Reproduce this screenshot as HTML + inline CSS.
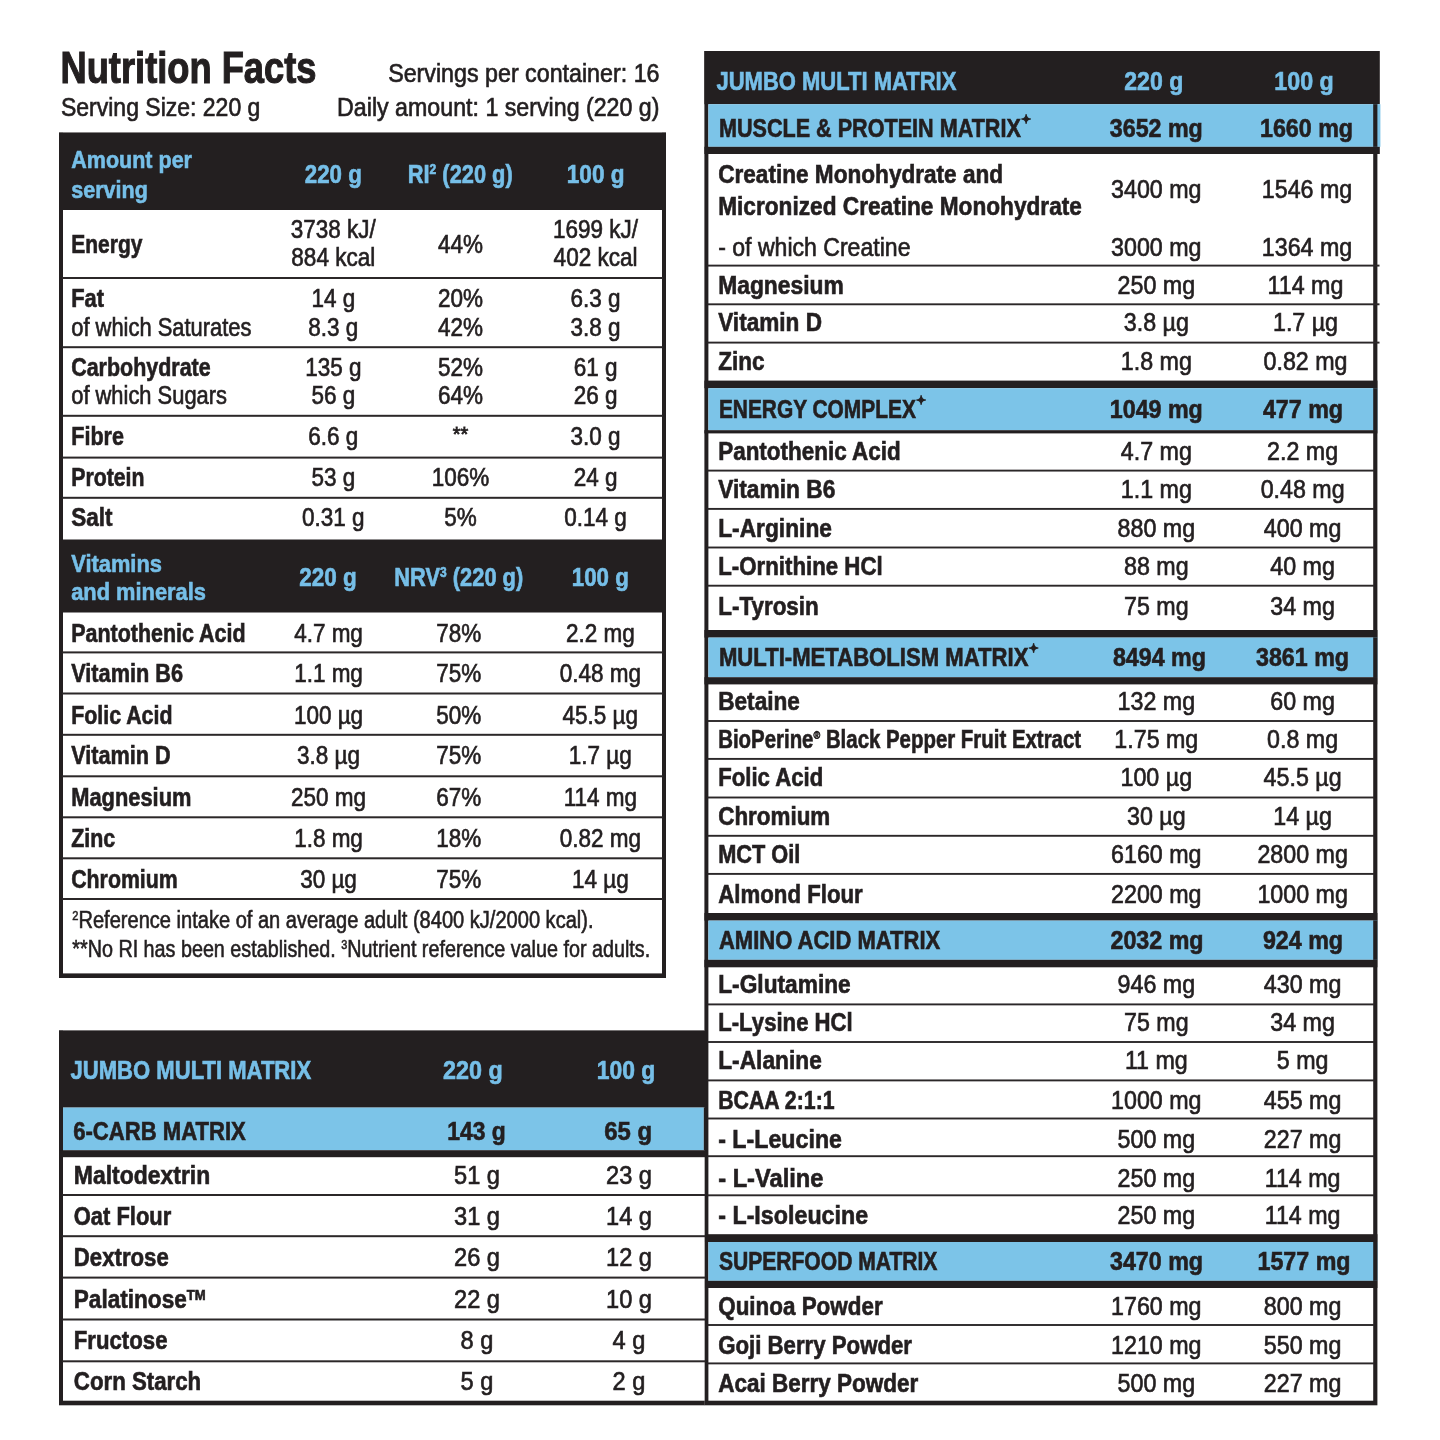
<!DOCTYPE html>
<html lang="en">
<head>
<meta charset="utf-8">
<title>Nutrition Facts</title>
<style>
html,body{margin:0;padding:0;background:#fff;}
body{width:1440px;height:1440px;overflow:hidden;}
svg{display:block;font-family:"Liberation Sans",sans-serif;filter:blur(0.55px);}
text{white-space:pre;}
</style>
</head>
<body>
<svg width="1440" height="1440" viewBox="0 0 1440 1440">
<rect width="1440" height="1440" fill="#ffffff"/>
<text transform="translate(60.50,83.30) scale(0.8341,1)" text-anchor="start" font-size="43.5" font-weight="bold" fill="#231f20" stroke="#231f20" stroke-width="1.09">Nutrition Facts</text>
<text transform="translate(61.00,116.00) scale(0.9021,1)" text-anchor="start" font-size="25.5" fill="#231f20" stroke="#231f20" stroke-width="0.66">Serving Size: 220 g</text>
<text transform="translate(659.50,82.00) scale(0.9121,1)" text-anchor="end" font-size="25.5" fill="#231f20" stroke="#231f20" stroke-width="0.66">Servings per container: 16</text>
<text transform="translate(659.50,116.00) scale(0.9101,1)" text-anchor="end" font-size="25.5" fill="#231f20" stroke="#231f20" stroke-width="0.66">Daily amount: 1 serving (220 g)</text>
<rect x="59.00" y="132.60" width="607.00" height="845.40" fill="#231f20"/>
<rect x="63.00" y="132.60" width="599.00" height="840.80" fill="#ffffff"/>
<rect x="59.00" y="132.60" width="607.00" height="77.40" fill="#231f20"/>
<rect x="59.00" y="539.50" width="607.00" height="73.00" fill="#231f20"/>
<rect x="62.00" y="277.00" width="601.00" height="2.00" fill="#2b2728"/>
<rect x="62.00" y="346.20" width="601.00" height="2.00" fill="#2b2728"/>
<rect x="62.00" y="414.80" width="601.00" height="2.00" fill="#2b2728"/>
<rect x="62.00" y="456.60" width="601.00" height="2.00" fill="#2b2728"/>
<rect x="62.00" y="496.80" width="601.00" height="2.00" fill="#2b2728"/>
<rect x="62.00" y="651.40" width="601.00" height="2.00" fill="#2b2728"/>
<rect x="62.00" y="692.50" width="601.00" height="2.00" fill="#2b2728"/>
<rect x="62.00" y="733.80" width="601.00" height="2.00" fill="#2b2728"/>
<rect x="62.00" y="775.30" width="601.00" height="2.00" fill="#2b2728"/>
<rect x="62.00" y="816.30" width="601.00" height="2.00" fill="#2b2728"/>
<rect x="62.00" y="857.30" width="601.00" height="2.00" fill="#2b2728"/>
<rect x="62.00" y="898.00" width="601.00" height="2.00" fill="#2b2728"/>
<text transform="translate(71.20,167.50) scale(0.8681,1)" text-anchor="start" font-size="24.8" font-weight="bold" fill="#76bfe8" stroke="#76bfe8" stroke-width="0.62">Amount per</text>
<text transform="translate(71.20,198.00) scale(0.8683,1)" text-anchor="start" font-size="24.8" font-weight="bold" fill="#76bfe8" stroke="#76bfe8" stroke-width="0.62">serving</text>
<text transform="translate(333.25,182.50) scale(0.8707,1)" text-anchor="middle" font-size="25.6" font-weight="bold" fill="#76bfe8" stroke="#76bfe8" stroke-width="0.64">220 g</text>
<text transform="translate(460.25,182.50) scale(0.8532,1)" text-anchor="middle" font-size="25.6" font-weight="bold" fill="#76bfe8" stroke="#76bfe8" stroke-width="0.64"><tspan>RI</tspan><tspan font-size="14.1" dy="-9.0">2</tspan><tspan dy="9.0"> (220 g)</tspan></text>
<text transform="translate(595.65,182.50) scale(0.8829,1)" text-anchor="middle" font-size="25.6" font-weight="bold" fill="#76bfe8" stroke="#76bfe8" stroke-width="0.64">100 g</text>
<text transform="translate(71.20,252.70) scale(0.8346,1)" text-anchor="start" font-size="25.2" font-weight="bold" fill="#231f20" stroke="#231f20" stroke-width="0.63">Energy</text>
<text transform="translate(333.30,237.70) scale(0.8994,1)" text-anchor="middle" font-size="25.0" fill="#231f20" stroke="#231f20" stroke-width="0.65">3738 kJ/</text>
<text transform="translate(333.30,266.20) scale(0.9021,1)" text-anchor="middle" font-size="25.0" fill="#231f20" stroke="#231f20" stroke-width="0.65">884 kcal</text>
<text transform="translate(460.60,252.70) scale(0.8993,1)" text-anchor="middle" font-size="25.0" fill="#231f20" stroke="#231f20" stroke-width="0.65">44%</text>
<text transform="translate(595.60,237.70) scale(0.8994,1)" text-anchor="middle" font-size="25.0" fill="#231f20" stroke="#231f20" stroke-width="0.65">1699 kJ/</text>
<text transform="translate(595.60,266.20) scale(0.9021,1)" text-anchor="middle" font-size="25.0" fill="#231f20" stroke="#231f20" stroke-width="0.65">402 kcal</text>
<text transform="translate(71.20,307.00) scale(0.8677,1)" text-anchor="start" font-size="25.2" font-weight="bold" fill="#231f20" stroke="#231f20" stroke-width="0.63">Fat</text>
<text transform="translate(71.20,335.60) scale(0.8766,1)" text-anchor="start" font-size="25.0" fill="#231f20" stroke="#231f20" stroke-width="0.65">of which Saturates</text>
<text transform="translate(333.30,307.00) scale(0.9000,1)" text-anchor="middle" font-size="25.0" fill="#231f20" stroke="#231f20" stroke-width="0.65">14 g</text>
<text transform="translate(460.60,307.00) scale(0.9000,1)" text-anchor="middle" font-size="25.0" fill="#231f20" stroke="#231f20" stroke-width="0.65">20%</text>
<text transform="translate(595.60,307.00) scale(0.9000,1)" text-anchor="middle" font-size="25.0" fill="#231f20" stroke="#231f20" stroke-width="0.65">6.3 g</text>
<text transform="translate(333.30,335.60) scale(0.9000,1)" text-anchor="middle" font-size="25.0" fill="#231f20" stroke="#231f20" stroke-width="0.65">8.3 g</text>
<text transform="translate(460.60,335.60) scale(0.9000,1)" text-anchor="middle" font-size="25.0" fill="#231f20" stroke="#231f20" stroke-width="0.65">42%</text>
<text transform="translate(595.60,335.60) scale(0.9000,1)" text-anchor="middle" font-size="25.0" fill="#231f20" stroke="#231f20" stroke-width="0.65">3.8 g</text>
<text transform="translate(71.20,375.60) scale(0.8520,1)" text-anchor="start" font-size="25.2" font-weight="bold" fill="#231f20" stroke="#231f20" stroke-width="0.63">Carbohydrate</text>
<text transform="translate(71.20,404.20) scale(0.8759,1)" text-anchor="start" font-size="25.0" fill="#231f20" stroke="#231f20" stroke-width="0.65">of which Sugars</text>
<text transform="translate(333.30,375.60) scale(0.9000,1)" text-anchor="middle" font-size="25.0" fill="#231f20" stroke="#231f20" stroke-width="0.65">135 g</text>
<text transform="translate(460.60,375.60) scale(0.9000,1)" text-anchor="middle" font-size="25.0" fill="#231f20" stroke="#231f20" stroke-width="0.65">52%</text>
<text transform="translate(595.60,375.60) scale(0.9000,1)" text-anchor="middle" font-size="25.0" fill="#231f20" stroke="#231f20" stroke-width="0.65">61 g</text>
<text transform="translate(333.30,404.20) scale(0.9000,1)" text-anchor="middle" font-size="25.0" fill="#231f20" stroke="#231f20" stroke-width="0.65">56 g</text>
<text transform="translate(460.60,404.20) scale(0.9000,1)" text-anchor="middle" font-size="25.0" fill="#231f20" stroke="#231f20" stroke-width="0.65">64%</text>
<text transform="translate(595.60,404.20) scale(0.9000,1)" text-anchor="middle" font-size="25.0" fill="#231f20" stroke="#231f20" stroke-width="0.65">26 g</text>
<text transform="translate(71.20,445.20) scale(0.8570,1)" text-anchor="start" font-size="25.2" font-weight="bold" fill="#231f20" stroke="#231f20" stroke-width="0.63">Fibre</text>
<text transform="translate(333.30,445.20) scale(0.9000,1)" text-anchor="middle" font-size="25.0" fill="#231f20" stroke="#231f20" stroke-width="0.65">6.6 g</text>
<text transform="translate(595.60,445.20) scale(0.9000,1)" text-anchor="middle" font-size="25.0" fill="#231f20" stroke="#231f20" stroke-width="0.65">3.0 g</text>
<text transform="translate(460.60,441.00) scale(0.9500,1)" text-anchor="middle" font-size="21" fill="#231f20" stroke="#231f20" stroke-width="0.80">**</text>
<text transform="translate(71.20,486.20) scale(0.8444,1)" text-anchor="start" font-size="25.2" font-weight="bold" fill="#231f20" stroke="#231f20" stroke-width="0.63">Protein</text>
<text transform="translate(333.30,486.20) scale(0.9000,1)" text-anchor="middle" font-size="25.0" fill="#231f20" stroke="#231f20" stroke-width="0.65">53 g</text>
<text transform="translate(460.60,486.20) scale(0.9000,1)" text-anchor="middle" font-size="25.0" fill="#231f20" stroke="#231f20" stroke-width="0.65">106%</text>
<text transform="translate(595.60,486.20) scale(0.9000,1)" text-anchor="middle" font-size="25.0" fill="#231f20" stroke="#231f20" stroke-width="0.65">24 g</text>
<text transform="translate(71.20,526.30) scale(0.8936,1)" text-anchor="start" font-size="25.2" font-weight="bold" fill="#231f20" stroke="#231f20" stroke-width="0.63">Salt</text>
<text transform="translate(333.30,526.30) scale(0.9000,1)" text-anchor="middle" font-size="25.0" fill="#231f20" stroke="#231f20" stroke-width="0.65">0.31 g</text>
<text transform="translate(460.60,526.30) scale(0.9000,1)" text-anchor="middle" font-size="25.0" fill="#231f20" stroke="#231f20" stroke-width="0.65">5%</text>
<text transform="translate(595.60,526.30) scale(0.9000,1)" text-anchor="middle" font-size="25.0" fill="#231f20" stroke="#231f20" stroke-width="0.65">0.14 g</text>
<text transform="translate(71.20,572.00) scale(0.8822,1)" text-anchor="start" font-size="24.8" font-weight="bold" fill="#76bfe8" stroke="#76bfe8" stroke-width="0.62">Vitamins</text>
<text transform="translate(71.20,599.60) scale(0.8811,1)" text-anchor="start" font-size="24.8" font-weight="bold" fill="#76bfe8" stroke="#76bfe8" stroke-width="0.62">and minerals</text>
<text transform="translate(328.00,586.00) scale(0.8783,1)" text-anchor="middle" font-size="25.6" font-weight="bold" fill="#76bfe8" stroke="#76bfe8" stroke-width="0.64">220 g</text>
<text transform="translate(458.75,586.00) scale(0.8540,1)" text-anchor="middle" font-size="25.6" font-weight="bold" fill="#76bfe8" stroke="#76bfe8" stroke-width="0.64"><tspan>NRV</tspan><tspan font-size="14.1" dy="-9.0">3</tspan><tspan dy="9.0"> (220 g)</tspan></text>
<text transform="translate(600.25,586.00) scale(0.8707,1)" text-anchor="middle" font-size="25.6" font-weight="bold" fill="#76bfe8" stroke="#76bfe8" stroke-width="0.64">100 g</text>
<text transform="translate(71.20,641.60) scale(0.8517,1)" text-anchor="start" font-size="25.2" font-weight="bold" fill="#231f20" stroke="#231f20" stroke-width="0.63">Pantothenic Acid</text>
<text transform="translate(328.50,641.60) scale(0.9000,1)" text-anchor="middle" font-size="25.0" fill="#231f20" stroke="#231f20" stroke-width="0.65">4.7 mg</text>
<text transform="translate(458.80,641.60) scale(0.9000,1)" text-anchor="middle" font-size="25.0" fill="#231f20" stroke="#231f20" stroke-width="0.65">78%</text>
<text transform="translate(600.30,641.60) scale(0.9000,1)" text-anchor="middle" font-size="25.0" fill="#231f20" stroke="#231f20" stroke-width="0.65">2.2 mg</text>
<text transform="translate(71.20,682.00) scale(0.8630,1)" text-anchor="start" font-size="25.2" font-weight="bold" fill="#231f20" stroke="#231f20" stroke-width="0.63">Vitamin B6</text>
<text transform="translate(328.50,682.00) scale(0.9000,1)" text-anchor="middle" font-size="25.0" fill="#231f20" stroke="#231f20" stroke-width="0.65">1.1 mg</text>
<text transform="translate(458.80,682.00) scale(0.9000,1)" text-anchor="middle" font-size="25.0" fill="#231f20" stroke="#231f20" stroke-width="0.65">75%</text>
<text transform="translate(600.30,682.00) scale(0.9000,1)" text-anchor="middle" font-size="25.0" fill="#231f20" stroke="#231f20" stroke-width="0.65">0.48 mg</text>
<text transform="translate(71.20,723.50) scale(0.8478,1)" text-anchor="start" font-size="25.2" font-weight="bold" fill="#231f20" stroke="#231f20" stroke-width="0.63">Folic Acid</text>
<text transform="translate(328.50,723.50) scale(0.9000,1)" text-anchor="middle" font-size="25.0" fill="#231f20" stroke="#231f20" stroke-width="0.65">100 µg</text>
<text transform="translate(458.80,723.50) scale(0.9000,1)" text-anchor="middle" font-size="25.0" fill="#231f20" stroke="#231f20" stroke-width="0.65">50%</text>
<text transform="translate(600.30,723.50) scale(0.9000,1)" text-anchor="middle" font-size="25.0" fill="#231f20" stroke="#231f20" stroke-width="0.65">45.5 µg</text>
<text transform="translate(71.20,764.40) scale(0.8604,1)" text-anchor="start" font-size="25.2" font-weight="bold" fill="#231f20" stroke="#231f20" stroke-width="0.63">Vitamin D</text>
<text transform="translate(328.50,764.40) scale(0.9000,1)" text-anchor="middle" font-size="25.0" fill="#231f20" stroke="#231f20" stroke-width="0.65">3.8 µg</text>
<text transform="translate(458.80,764.40) scale(0.9000,1)" text-anchor="middle" font-size="25.0" fill="#231f20" stroke="#231f20" stroke-width="0.65">75%</text>
<text transform="translate(600.30,764.40) scale(0.9000,1)" text-anchor="middle" font-size="25.0" fill="#231f20" stroke="#231f20" stroke-width="0.65">1.7 µg</text>
<text transform="translate(71.20,805.60) scale(0.8678,1)" text-anchor="start" font-size="25.2" font-weight="bold" fill="#231f20" stroke="#231f20" stroke-width="0.63">Magnesium</text>
<text transform="translate(328.50,805.60) scale(0.9000,1)" text-anchor="middle" font-size="25.0" fill="#231f20" stroke="#231f20" stroke-width="0.65">250 mg</text>
<text transform="translate(458.80,805.60) scale(0.9000,1)" text-anchor="middle" font-size="25.0" fill="#231f20" stroke="#231f20" stroke-width="0.65">67%</text>
<text transform="translate(600.30,805.60) scale(0.9000,1)" text-anchor="middle" font-size="25.0" fill="#231f20" stroke="#231f20" stroke-width="0.65">114 mg</text>
<text transform="translate(71.20,846.80) scale(0.8493,1)" text-anchor="start" font-size="25.2" font-weight="bold" fill="#231f20" stroke="#231f20" stroke-width="0.63">Zinc</text>
<text transform="translate(328.50,846.80) scale(0.9000,1)" text-anchor="middle" font-size="25.0" fill="#231f20" stroke="#231f20" stroke-width="0.65">1.8 mg</text>
<text transform="translate(458.80,846.80) scale(0.9000,1)" text-anchor="middle" font-size="25.0" fill="#231f20" stroke="#231f20" stroke-width="0.65">18%</text>
<text transform="translate(600.30,846.80) scale(0.9000,1)" text-anchor="middle" font-size="25.0" fill="#231f20" stroke="#231f20" stroke-width="0.65">0.82 mg</text>
<text transform="translate(71.20,888.00) scale(0.8460,1)" text-anchor="start" font-size="25.2" font-weight="bold" fill="#231f20" stroke="#231f20" stroke-width="0.63">Chromium</text>
<text transform="translate(328.50,888.00) scale(0.9000,1)" text-anchor="middle" font-size="25.0" fill="#231f20" stroke="#231f20" stroke-width="0.65">30 µg</text>
<text transform="translate(458.80,888.00) scale(0.9000,1)" text-anchor="middle" font-size="25.0" fill="#231f20" stroke="#231f20" stroke-width="0.65">75%</text>
<text transform="translate(600.30,888.00) scale(0.9000,1)" text-anchor="middle" font-size="25.0" fill="#231f20" stroke="#231f20" stroke-width="0.65">14 µg</text>
<text transform="translate(72.30,928.30) scale(0.8578,1)" text-anchor="start" font-size="23.4" fill="#231f20" stroke="#231f20" stroke-width="0.60"><tspan font-size="12.9" dy="-8.0">2</tspan><tspan dy="8.0">Reference intake of an average adult (8400 kJ/2000 kcal).</tspan></text>
<text transform="translate(72.30,957.10) scale(0.8442,1)" text-anchor="start" font-size="23.4" fill="#231f20" stroke="#231f20" stroke-width="0.60"><tspan>**No RI has been established. </tspan><tspan font-size="12.9" dy="-8.0">3</tspan><tspan dy="8.0">Nutrient reference value for adults.</tspan></text>
<rect x="704.40" y="51.00" width="673.00" height="1354.30" fill="#231f20"/>
<rect x="708.40" y="51.00" width="664.80" height="1349.70" fill="#ffffff"/>
<rect x="704.40" y="51.00" width="675.40" height="53.20" fill="#231f20"/>
<text transform="translate(716.50,89.60) scale(0.8596,1)" text-anchor="start" font-size="25.6" font-weight="bold" fill="#76bfe8" stroke="#76bfe8" stroke-width="0.64">JUMBO MULTI MATRIX</text>
<text transform="translate(1153.75,89.60) scale(0.9012,1)" text-anchor="middle" font-size="25.6" font-weight="bold" fill="#76bfe8" stroke="#76bfe8" stroke-width="0.64">220 g</text>
<text transform="translate(1304.00,89.60) scale(0.9089,1)" text-anchor="middle" font-size="25.6" font-weight="bold" fill="#76bfe8" stroke="#76bfe8" stroke-width="0.64">100 g</text>
<rect x="708.40" y="104.20" width="672.00" height="42.60" fill="#7cc4e8"/>
<rect x="1373.20" y="104.20" width="4.20" height="42.60" fill="#231f20"/>
<rect x="704.40" y="146.80" width="675.40" height="7.20" fill="#231f20"/>
<text transform="translate(718.90,137.10) scale(0.8473,1)" text-anchor="start" font-size="25.5" font-weight="bold" fill="#231f20" stroke="#231f20" stroke-width="0.64">MUSCLE &amp; PROTEIN MATRIX</text>
<text x="1021.6" y="123.1" font-size="11" font-family="'DejaVu Sans', sans-serif" fill="#231f20" stroke="#231f20" stroke-width="1.5" stroke-linejoin="round">✦</text>
<text transform="translate(1156.30,137.10) scale(0.9120,1)" text-anchor="middle" font-size="25.5" font-weight="bold" fill="#231f20" stroke="#231f20" stroke-width="0.64">3652 mg</text>
<text transform="translate(1306.50,137.10) scale(0.9120,1)" text-anchor="middle" font-size="25.5" font-weight="bold" fill="#231f20" stroke="#231f20" stroke-width="0.64">1660 mg</text>
<text transform="translate(718.20,182.60) scale(0.8970,1)" text-anchor="start" font-size="25.2" font-weight="bold" fill="#231f20" stroke="#231f20" stroke-width="0.63">Creatine Monohydrate and</text>
<text transform="translate(718.20,215.20) scale(0.8990,1)" text-anchor="start" font-size="25.2" font-weight="bold" fill="#231f20" stroke="#231f20" stroke-width="0.63">Micronized Creatine Monohydrate</text>
<text transform="translate(1156.30,198.20) scale(0.9300,1)" text-anchor="middle" font-size="25.0" fill="#231f20" stroke="#231f20" stroke-width="0.65">3400 mg</text>
<text transform="translate(1307.00,198.20) scale(0.9300,1)" text-anchor="middle" font-size="25.0" fill="#231f20" stroke="#231f20" stroke-width="0.65">1546 mg</text>
<text transform="translate(718.20,255.60) scale(0.9226,1)" text-anchor="start" font-size="25.0" fill="#231f20" stroke="#231f20" stroke-width="0.65">- of which Creatine</text>
<text transform="translate(1156.30,255.60) scale(0.9300,1)" text-anchor="middle" font-size="25.0" fill="#231f20" stroke="#231f20" stroke-width="0.65">3000 mg</text>
<text transform="translate(1307.00,255.60) scale(0.9300,1)" text-anchor="middle" font-size="25.0" fill="#231f20" stroke="#231f20" stroke-width="0.65">1364 mg</text>
<rect x="707.40" y="264.65" width="672.10" height="1.90" fill="#2b2728"/>
<text transform="translate(718.20,293.80) scale(0.9060,1)" text-anchor="start" font-size="25.2" font-weight="bold" fill="#231f20" stroke="#231f20" stroke-width="0.63">Magnesium</text>
<text transform="translate(1156.30,293.80) scale(0.9300,1)" text-anchor="middle" font-size="25.0" fill="#231f20" stroke="#231f20" stroke-width="0.65">250 mg</text>
<text transform="translate(1305.50,293.80) scale(0.9300,1)" text-anchor="middle" font-size="25.0" fill="#231f20" stroke="#231f20" stroke-width="0.65">114 mg</text>
<rect x="707.40" y="303.35" width="672.10" height="1.90" fill="#2b2728"/>
<text transform="translate(718.20,331.40) scale(0.8966,1)" text-anchor="start" font-size="25.2" font-weight="bold" fill="#231f20" stroke="#231f20" stroke-width="0.63">Vitamin D</text>
<text transform="translate(1156.30,331.40) scale(0.9300,1)" text-anchor="middle" font-size="25.0" fill="#231f20" stroke="#231f20" stroke-width="0.65">3.8 µg</text>
<text transform="translate(1305.50,331.40) scale(0.9300,1)" text-anchor="middle" font-size="25.0" fill="#231f20" stroke="#231f20" stroke-width="0.65">1.7 µg</text>
<rect x="707.40" y="341.65" width="672.10" height="1.90" fill="#2b2728"/>
<text transform="translate(718.20,370.00) scale(0.8937,1)" text-anchor="start" font-size="25.2" font-weight="bold" fill="#231f20" stroke="#231f20" stroke-width="0.63">Zinc</text>
<text transform="translate(1156.30,370.00) scale(0.9300,1)" text-anchor="middle" font-size="25.0" fill="#231f20" stroke="#231f20" stroke-width="0.65">1.8 mg</text>
<text transform="translate(1305.50,370.00) scale(0.9300,1)" text-anchor="middle" font-size="25.0" fill="#231f20" stroke="#231f20" stroke-width="0.65">0.82 mg</text>
<rect x="704.40" y="380.60" width="673.00" height="7.60" fill="#231f20"/>
<rect x="708.40" y="388.20" width="669.00" height="42.00" fill="#7cc4e8"/>
<rect x="1373.20" y="388.20" width="4.20" height="42.00" fill="#231f20"/>
<rect x="704.40" y="430.20" width="673.00" height="3.20" fill="#231f20"/>
<text transform="translate(718.90,417.80) scale(0.8198,1)" text-anchor="start" font-size="25.5" font-weight="bold" fill="#231f20" stroke="#231f20" stroke-width="0.64">ENERGY COMPLEX</text>
<text x="916.6" y="403.8" font-size="11" font-family="'DejaVu Sans', sans-serif" fill="#231f20" stroke="#231f20" stroke-width="1.5" stroke-linejoin="round">✦</text>
<text transform="translate(1156.30,417.80) scale(0.9120,1)" text-anchor="middle" font-size="25.5" font-weight="bold" fill="#231f20" stroke="#231f20" stroke-width="0.64">1049 mg</text>
<text transform="translate(1303.00,417.80) scale(0.9120,1)" text-anchor="middle" font-size="25.5" font-weight="bold" fill="#231f20" stroke="#231f20" stroke-width="0.64">477 mg</text>
<text transform="translate(718.20,460.20) scale(0.8912,1)" text-anchor="start" font-size="25.2" font-weight="bold" fill="#231f20" stroke="#231f20" stroke-width="0.63">Pantothenic Acid</text>
<text transform="translate(1156.30,460.20) scale(0.9300,1)" text-anchor="middle" font-size="25.0" fill="#231f20" stroke="#231f20" stroke-width="0.65">4.7 mg</text>
<text transform="translate(1302.60,460.20) scale(0.9300,1)" text-anchor="middle" font-size="25.0" fill="#231f20" stroke="#231f20" stroke-width="0.65">2.2 mg</text>
<rect x="707.40" y="469.65" width="667.00" height="1.90" fill="#2b2728"/>
<text transform="translate(718.20,498.20) scale(0.9023,1)" text-anchor="start" font-size="25.2" font-weight="bold" fill="#231f20" stroke="#231f20" stroke-width="0.63">Vitamin B6</text>
<text transform="translate(1156.30,498.20) scale(0.9300,1)" text-anchor="middle" font-size="25.0" fill="#231f20" stroke="#231f20" stroke-width="0.65">1.1 mg</text>
<text transform="translate(1302.60,498.20) scale(0.9300,1)" text-anchor="middle" font-size="25.0" fill="#231f20" stroke="#231f20" stroke-width="0.65">0.48 mg</text>
<rect x="707.40" y="507.95" width="667.00" height="1.90" fill="#2b2728"/>
<text transform="translate(718.20,536.50) scale(0.9032,1)" text-anchor="start" font-size="25.2" font-weight="bold" fill="#231f20" stroke="#231f20" stroke-width="0.63">L-Arginine</text>
<text transform="translate(1156.30,536.50) scale(0.9300,1)" text-anchor="middle" font-size="25.0" fill="#231f20" stroke="#231f20" stroke-width="0.65">880 mg</text>
<text transform="translate(1302.60,536.50) scale(0.9300,1)" text-anchor="middle" font-size="25.0" fill="#231f20" stroke="#231f20" stroke-width="0.65">400 mg</text>
<rect x="707.40" y="546.55" width="667.00" height="1.90" fill="#2b2728"/>
<text transform="translate(718.20,575.20) scale(0.8840,1)" text-anchor="start" font-size="25.2" font-weight="bold" fill="#231f20" stroke="#231f20" stroke-width="0.63">L-Ornithine HCl</text>
<text transform="translate(1156.30,575.20) scale(0.9300,1)" text-anchor="middle" font-size="25.0" fill="#231f20" stroke="#231f20" stroke-width="0.65">88 mg</text>
<text transform="translate(1302.60,575.20) scale(0.9300,1)" text-anchor="middle" font-size="25.0" fill="#231f20" stroke="#231f20" stroke-width="0.65">40 mg</text>
<rect x="707.40" y="584.75" width="667.00" height="1.90" fill="#2b2728"/>
<text transform="translate(718.20,614.60) scale(0.8908,1)" text-anchor="start" font-size="25.2" font-weight="bold" fill="#231f20" stroke="#231f20" stroke-width="0.63">L-Tyrosin</text>
<text transform="translate(1156.30,614.60) scale(0.9300,1)" text-anchor="middle" font-size="25.0" fill="#231f20" stroke="#231f20" stroke-width="0.65">75 mg</text>
<text transform="translate(1302.60,614.60) scale(0.9300,1)" text-anchor="middle" font-size="25.0" fill="#231f20" stroke="#231f20" stroke-width="0.65">34 mg</text>
<rect x="704.40" y="630.00" width="673.00" height="7.60" fill="#231f20"/>
<rect x="708.40" y="637.60" width="669.00" height="39.60" fill="#7cc4e8"/>
<rect x="1373.20" y="637.60" width="4.20" height="39.60" fill="#231f20"/>
<rect x="704.40" y="677.20" width="673.00" height="7.20" fill="#231f20"/>
<text transform="translate(718.90,666.40) scale(0.8674,1)" text-anchor="start" font-size="25.5" font-weight="bold" fill="#231f20" stroke="#231f20" stroke-width="0.64">MULTI-METABOLISM MATRIX</text>
<text x="1029.1" y="652.4" font-size="11" font-family="'DejaVu Sans', sans-serif" fill="#231f20" stroke="#231f20" stroke-width="1.5" stroke-linejoin="round">✦</text>
<text transform="translate(1159.40,666.40) scale(0.9120,1)" text-anchor="middle" font-size="25.5" font-weight="bold" fill="#231f20" stroke="#231f20" stroke-width="0.64">8494 mg</text>
<text transform="translate(1302.50,666.40) scale(0.9120,1)" text-anchor="middle" font-size="25.5" font-weight="bold" fill="#231f20" stroke="#231f20" stroke-width="0.64">3861 mg</text>
<text transform="translate(718.20,710.20) scale(0.8986,1)" text-anchor="start" font-size="25.2" font-weight="bold" fill="#231f20" stroke="#231f20" stroke-width="0.63">Betaine</text>
<text transform="translate(1156.30,710.20) scale(0.9300,1)" text-anchor="middle" font-size="25.0" fill="#231f20" stroke="#231f20" stroke-width="0.65">132 mg</text>
<text transform="translate(1302.60,710.20) scale(0.9300,1)" text-anchor="middle" font-size="25.0" fill="#231f20" stroke="#231f20" stroke-width="0.65">60 mg</text>
<rect x="707.40" y="720.05" width="667.00" height="1.90" fill="#2b2728"/>
<text transform="translate(718.20,748.20) scale(0.8103,1)" text-anchor="start" font-size="25.2" font-weight="bold" fill="#231f20" stroke="#231f20" stroke-width="0.63"><tspan>BioPerine</tspan><tspan font-size="11.3" dy="-9.0">®</tspan><tspan dy="9.0"> Black Pepper Fruit Extract</tspan></text>
<text transform="translate(1156.30,748.20) scale(0.9300,1)" text-anchor="middle" font-size="25.0" fill="#231f20" stroke="#231f20" stroke-width="0.65">1.75 mg</text>
<text transform="translate(1302.60,748.20) scale(0.9300,1)" text-anchor="middle" font-size="25.0" fill="#231f20" stroke="#231f20" stroke-width="0.65">0.8 mg</text>
<rect x="707.40" y="757.95" width="667.00" height="1.90" fill="#2b2728"/>
<text transform="translate(718.20,786.40) scale(0.8796,1)" text-anchor="start" font-size="25.2" font-weight="bold" fill="#231f20" stroke="#231f20" stroke-width="0.63">Folic Acid</text>
<text transform="translate(1156.30,786.40) scale(0.9300,1)" text-anchor="middle" font-size="25.0" fill="#231f20" stroke="#231f20" stroke-width="0.65">100 µg</text>
<text transform="translate(1302.60,786.40) scale(0.9300,1)" text-anchor="middle" font-size="25.0" fill="#231f20" stroke="#231f20" stroke-width="0.65">45.5 µg</text>
<rect x="707.40" y="796.55" width="667.00" height="1.90" fill="#2b2728"/>
<text transform="translate(718.20,824.60) scale(0.8897,1)" text-anchor="start" font-size="25.2" font-weight="bold" fill="#231f20" stroke="#231f20" stroke-width="0.63">Chromium</text>
<text transform="translate(1156.30,824.60) scale(0.9300,1)" text-anchor="middle" font-size="25.0" fill="#231f20" stroke="#231f20" stroke-width="0.65">30 µg</text>
<text transform="translate(1302.60,824.60) scale(0.9300,1)" text-anchor="middle" font-size="25.0" fill="#231f20" stroke="#231f20" stroke-width="0.65">14 µg</text>
<rect x="707.40" y="834.85" width="667.00" height="1.90" fill="#2b2728"/>
<text transform="translate(718.20,863.20) scale(0.8625,1)" text-anchor="start" font-size="25.2" font-weight="bold" fill="#231f20" stroke="#231f20" stroke-width="0.63">MCT Oil</text>
<text transform="translate(1156.30,863.20) scale(0.9300,1)" text-anchor="middle" font-size="25.0" fill="#231f20" stroke="#231f20" stroke-width="0.65">6160 mg</text>
<text transform="translate(1302.60,863.20) scale(0.9300,1)" text-anchor="middle" font-size="25.0" fill="#231f20" stroke="#231f20" stroke-width="0.65">2800 mg</text>
<rect x="707.40" y="872.95" width="667.00" height="1.90" fill="#2b2728"/>
<text transform="translate(718.20,902.60) scale(0.8829,1)" text-anchor="start" font-size="25.2" font-weight="bold" fill="#231f20" stroke="#231f20" stroke-width="0.63">Almond Flour</text>
<text transform="translate(1156.30,902.60) scale(0.9300,1)" text-anchor="middle" font-size="25.0" fill="#231f20" stroke="#231f20" stroke-width="0.65">2200 mg</text>
<text transform="translate(1302.60,902.60) scale(0.9300,1)" text-anchor="middle" font-size="25.0" fill="#231f20" stroke="#231f20" stroke-width="0.65">1000 mg</text>
<rect x="704.40" y="913.00" width="673.00" height="7.60" fill="#231f20"/>
<rect x="708.40" y="920.60" width="669.00" height="39.20" fill="#7cc4e8"/>
<rect x="1373.20" y="920.60" width="4.20" height="39.20" fill="#231f20"/>
<rect x="704.40" y="959.80" width="673.00" height="7.50" fill="#231f20"/>
<text transform="translate(718.90,948.90) scale(0.8635,1)" text-anchor="start" font-size="25.5" font-weight="bold" fill="#231f20" stroke="#231f20" stroke-width="0.64">AMINO ACID MATRIX</text>
<text transform="translate(1157.00,948.90) scale(0.9120,1)" text-anchor="middle" font-size="25.5" font-weight="bold" fill="#231f20" stroke="#231f20" stroke-width="0.64">2032 mg</text>
<text transform="translate(1303.00,948.90) scale(0.9120,1)" text-anchor="middle" font-size="25.5" font-weight="bold" fill="#231f20" stroke="#231f20" stroke-width="0.64">924 mg</text>
<text transform="translate(718.20,992.60) scale(0.9020,1)" text-anchor="start" font-size="25.2" font-weight="bold" fill="#231f20" stroke="#231f20" stroke-width="0.63">L-Glutamine</text>
<text transform="translate(1156.30,992.60) scale(0.9300,1)" text-anchor="middle" font-size="25.0" fill="#231f20" stroke="#231f20" stroke-width="0.65">946 mg</text>
<text transform="translate(1302.60,992.60) scale(0.9300,1)" text-anchor="middle" font-size="25.0" fill="#231f20" stroke="#231f20" stroke-width="0.65">430 mg</text>
<rect x="707.40" y="1003.45" width="667.00" height="1.90" fill="#2b2728"/>
<text transform="translate(718.20,1030.80) scale(0.8792,1)" text-anchor="start" font-size="25.2" font-weight="bold" fill="#231f20" stroke="#231f20" stroke-width="0.63">L-Lysine HCl</text>
<text transform="translate(1156.30,1030.80) scale(0.9300,1)" text-anchor="middle" font-size="25.0" fill="#231f20" stroke="#231f20" stroke-width="0.65">75 mg</text>
<text transform="translate(1302.60,1030.80) scale(0.9300,1)" text-anchor="middle" font-size="25.0" fill="#231f20" stroke="#231f20" stroke-width="0.65">34 mg</text>
<rect x="707.40" y="1041.05" width="667.00" height="1.90" fill="#2b2728"/>
<text transform="translate(718.20,1069.20) scale(0.9024,1)" text-anchor="start" font-size="25.2" font-weight="bold" fill="#231f20" stroke="#231f20" stroke-width="0.63">L-Alanine</text>
<text transform="translate(1156.30,1069.20) scale(0.9300,1)" text-anchor="middle" font-size="25.0" fill="#231f20" stroke="#231f20" stroke-width="0.65">11 mg</text>
<text transform="translate(1302.60,1069.20) scale(0.9300,1)" text-anchor="middle" font-size="25.0" fill="#231f20" stroke="#231f20" stroke-width="0.65">5 mg</text>
<rect x="707.40" y="1079.45" width="667.00" height="1.90" fill="#2b2728"/>
<text transform="translate(718.20,1109.20) scale(0.8454,1)" text-anchor="start" font-size="25.2" font-weight="bold" fill="#231f20" stroke="#231f20" stroke-width="0.63">BCAA 2:1:1</text>
<text transform="translate(1156.30,1109.20) scale(0.9300,1)" text-anchor="middle" font-size="25.0" fill="#231f20" stroke="#231f20" stroke-width="0.65">1000 mg</text>
<text transform="translate(1302.60,1109.20) scale(0.9300,1)" text-anchor="middle" font-size="25.0" fill="#231f20" stroke="#231f20" stroke-width="0.65">455 mg</text>
<rect x="707.40" y="1117.55" width="667.00" height="1.90" fill="#2b2728"/>
<text transform="translate(718.20,1148.20) scale(0.9211,1)" text-anchor="start" font-size="25.2" font-weight="bold" fill="#231f20" stroke="#231f20" stroke-width="0.63">- L-Leucine</text>
<text transform="translate(1156.30,1148.20) scale(0.9300,1)" text-anchor="middle" font-size="25.0" fill="#231f20" stroke="#231f20" stroke-width="0.65">500 mg</text>
<text transform="translate(1302.60,1148.20) scale(0.9300,1)" text-anchor="middle" font-size="25.0" fill="#231f20" stroke="#231f20" stroke-width="0.65">227 mg</text>
<rect x="707.40" y="1155.25" width="667.00" height="1.90" fill="#2b2728"/>
<text transform="translate(718.20,1186.60) scale(0.9400,1)" text-anchor="start" font-size="25.2" font-weight="bold" fill="#231f20" stroke="#231f20" stroke-width="0.63">- L-Valine</text>
<text transform="translate(1156.30,1186.60) scale(0.9300,1)" text-anchor="middle" font-size="25.0" fill="#231f20" stroke="#231f20" stroke-width="0.65">250 mg</text>
<text transform="translate(1302.60,1186.60) scale(0.9300,1)" text-anchor="middle" font-size="25.0" fill="#231f20" stroke="#231f20" stroke-width="0.65">114 mg</text>
<rect x="707.40" y="1194.35" width="667.00" height="1.90" fill="#2b2728"/>
<text transform="translate(718.20,1224.40) scale(0.9235,1)" text-anchor="start" font-size="25.2" font-weight="bold" fill="#231f20" stroke="#231f20" stroke-width="0.63">- L-Isoleucine</text>
<text transform="translate(1156.30,1224.40) scale(0.9300,1)" text-anchor="middle" font-size="25.0" fill="#231f20" stroke="#231f20" stroke-width="0.65">250 mg</text>
<text transform="translate(1302.60,1224.40) scale(0.9300,1)" text-anchor="middle" font-size="25.0" fill="#231f20" stroke="#231f20" stroke-width="0.65">114 mg</text>
<rect x="704.40" y="1234.20" width="673.00" height="7.80" fill="#231f20"/>
<rect x="708.40" y="1242.00" width="669.00" height="38.80" fill="#7cc4e8"/>
<rect x="1373.20" y="1242.00" width="4.20" height="38.80" fill="#231f20"/>
<rect x="704.40" y="1280.80" width="673.00" height="7.20" fill="#231f20"/>
<text transform="translate(718.90,1269.80) scale(0.8270,1)" text-anchor="start" font-size="25.5" font-weight="bold" fill="#231f20" stroke="#231f20" stroke-width="0.64">SUPERFOOD MATRIX</text>
<text transform="translate(1156.50,1269.80) scale(0.9120,1)" text-anchor="middle" font-size="25.5" font-weight="bold" fill="#231f20" stroke="#231f20" stroke-width="0.64">3470 mg</text>
<text transform="translate(1304.00,1269.80) scale(0.9120,1)" text-anchor="middle" font-size="25.5" font-weight="bold" fill="#231f20" stroke="#231f20" stroke-width="0.64">1577 mg</text>
<text transform="translate(718.20,1314.60) scale(0.8900,1)" text-anchor="start" font-size="25.2" font-weight="bold" fill="#231f20" stroke="#231f20" stroke-width="0.63">Quinoa Powder</text>
<text transform="translate(1156.30,1314.60) scale(0.9300,1)" text-anchor="middle" font-size="25.0" fill="#231f20" stroke="#231f20" stroke-width="0.65">1760 mg</text>
<text transform="translate(1302.60,1314.60) scale(0.9300,1)" text-anchor="middle" font-size="25.0" fill="#231f20" stroke="#231f20" stroke-width="0.65">800 mg</text>
<rect x="707.40" y="1324.05" width="667.00" height="1.90" fill="#2b2728"/>
<text transform="translate(718.20,1354.00) scale(0.8814,1)" text-anchor="start" font-size="25.2" font-weight="bold" fill="#231f20" stroke="#231f20" stroke-width="0.63">Goji Berry Powder</text>
<text transform="translate(1156.30,1354.00) scale(0.9300,1)" text-anchor="middle" font-size="25.0" fill="#231f20" stroke="#231f20" stroke-width="0.65">1210 mg</text>
<text transform="translate(1302.60,1354.00) scale(0.9300,1)" text-anchor="middle" font-size="25.0" fill="#231f20" stroke="#231f20" stroke-width="0.65">550 mg</text>
<rect x="707.40" y="1362.45" width="667.00" height="1.90" fill="#2b2728"/>
<text transform="translate(718.20,1392.40) scale(0.8929,1)" text-anchor="start" font-size="25.2" font-weight="bold" fill="#231f20" stroke="#231f20" stroke-width="0.63">Acai Berry Powder</text>
<text transform="translate(1156.30,1392.40) scale(0.9300,1)" text-anchor="middle" font-size="25.0" fill="#231f20" stroke="#231f20" stroke-width="0.65">500 mg</text>
<text transform="translate(1302.60,1392.40) scale(0.9300,1)" text-anchor="middle" font-size="25.0" fill="#231f20" stroke="#231f20" stroke-width="0.65">227 mg</text>
<rect x="59.00" y="1030.50" width="645.60" height="374.80" fill="#231f20"/>
<rect x="63.00" y="1030.50" width="641.60" height="370.20" fill="#ffffff"/>
<rect x="59.00" y="1030.50" width="647.60" height="77.10" fill="#231f20"/>
<rect x="63.00" y="1107.60" width="640.80" height="42.60" fill="#7cc4e8"/>
<rect x="703.80" y="1107.60" width="2.80" height="42.60" fill="#231f20"/>
<rect x="59.00" y="1150.20" width="647.60" height="7.00" fill="#231f20"/>
<text transform="translate(70.50,1078.90) scale(0.8624,1)" text-anchor="start" font-size="25.6" font-weight="bold" fill="#76bfe8" stroke="#76bfe8" stroke-width="0.64">JUMBO MULTI MATRIX</text>
<text transform="translate(472.90,1078.90) scale(0.9119,1)" text-anchor="middle" font-size="25.6" font-weight="bold" fill="#76bfe8" stroke="#76bfe8" stroke-width="0.64">220 g</text>
<text transform="translate(626.00,1078.90) scale(0.8936,1)" text-anchor="middle" font-size="25.6" font-weight="bold" fill="#76bfe8" stroke="#76bfe8" stroke-width="0.64">100 g</text>
<text transform="translate(73.20,1140.20) scale(0.8775,1)" text-anchor="start" font-size="25.2" font-weight="bold" fill="#231f20" stroke="#231f20" stroke-width="0.63">6-CARB MATRIX</text>
<text transform="translate(476.50,1140.20) scale(0.9078,1)" text-anchor="middle" font-size="25.2" font-weight="bold" fill="#231f20" stroke="#231f20" stroke-width="0.63">143 g</text>
<text transform="translate(628.15,1140.20) scale(0.9479,1)" text-anchor="middle" font-size="25.2" font-weight="bold" fill="#231f20" stroke="#231f20" stroke-width="0.63">65 g</text>
<text transform="translate(73.80,1183.90) scale(0.9111,1)" text-anchor="start" font-size="25.2" font-weight="bold" fill="#231f20" stroke="#231f20" stroke-width="0.63">Maltodextrin</text>
<text transform="translate(477.00,1183.90) scale(0.9450,1)" text-anchor="middle" font-size="25.0" fill="#231f20" stroke="#231f20" stroke-width="0.65">51 g</text>
<text transform="translate(629.00,1183.90) scale(0.9450,1)" text-anchor="middle" font-size="25.0" fill="#231f20" stroke="#231f20" stroke-width="0.65">23 g</text>
<rect x="62.00" y="1194.00" width="643.60" height="2.00" fill="#2b2728"/>
<text transform="translate(73.80,1224.60) scale(0.8705,1)" text-anchor="start" font-size="25.2" font-weight="bold" fill="#231f20" stroke="#231f20" stroke-width="0.63">Oat Flour</text>
<text transform="translate(477.00,1224.60) scale(0.9450,1)" text-anchor="middle" font-size="25.0" fill="#231f20" stroke="#231f20" stroke-width="0.65">31 g</text>
<text transform="translate(629.00,1224.60) scale(0.9450,1)" text-anchor="middle" font-size="25.0" fill="#231f20" stroke="#231f20" stroke-width="0.65">14 g</text>
<rect x="62.00" y="1235.20" width="643.60" height="2.00" fill="#2b2728"/>
<text transform="translate(73.80,1266.40) scale(0.8808,1)" text-anchor="start" font-size="25.2" font-weight="bold" fill="#231f20" stroke="#231f20" stroke-width="0.63">Dextrose</text>
<text transform="translate(477.00,1266.40) scale(0.9450,1)" text-anchor="middle" font-size="25.0" fill="#231f20" stroke="#231f20" stroke-width="0.65">26 g</text>
<text transform="translate(629.00,1266.40) scale(0.9450,1)" text-anchor="middle" font-size="25.0" fill="#231f20" stroke="#231f20" stroke-width="0.65">12 g</text>
<rect x="62.00" y="1276.60" width="643.60" height="2.00" fill="#2b2728"/>
<text transform="translate(73.80,1308.00) scale(0.8970,1)" text-anchor="start" font-size="25.2" font-weight="bold" fill="#231f20" stroke="#231f20" stroke-width="0.63"><tspan>Palatinose</tspan><tspan font-size="14.6" dy="-7.8">TM</tspan></text>
<text transform="translate(477.00,1308.00) scale(0.9450,1)" text-anchor="middle" font-size="25.0" fill="#231f20" stroke="#231f20" stroke-width="0.65">22 g</text>
<text transform="translate(629.00,1308.00) scale(0.9450,1)" text-anchor="middle" font-size="25.0" fill="#231f20" stroke="#231f20" stroke-width="0.65">10 g</text>
<rect x="62.00" y="1318.50" width="643.60" height="2.00" fill="#2b2728"/>
<text transform="translate(73.80,1348.60) scale(0.8804,1)" text-anchor="start" font-size="25.2" font-weight="bold" fill="#231f20" stroke="#231f20" stroke-width="0.63">Fructose</text>
<text transform="translate(477.00,1348.60) scale(0.9450,1)" text-anchor="middle" font-size="25.0" fill="#231f20" stroke="#231f20" stroke-width="0.65">8 g</text>
<text transform="translate(629.00,1348.60) scale(0.9450,1)" text-anchor="middle" font-size="25.0" fill="#231f20" stroke="#231f20" stroke-width="0.65">4 g</text>
<rect x="62.00" y="1360.30" width="643.60" height="2.00" fill="#2b2728"/>
<text transform="translate(73.80,1390.20) scale(0.8840,1)" text-anchor="start" font-size="25.2" font-weight="bold" fill="#231f20" stroke="#231f20" stroke-width="0.63">Corn Starch</text>
<text transform="translate(477.00,1390.20) scale(0.9450,1)" text-anchor="middle" font-size="25.0" fill="#231f20" stroke="#231f20" stroke-width="0.65">5 g</text>
<text transform="translate(629.00,1390.20) scale(0.9450,1)" text-anchor="middle" font-size="25.0" fill="#231f20" stroke="#231f20" stroke-width="0.65">2 g</text>
</svg>
</body>
</html>
